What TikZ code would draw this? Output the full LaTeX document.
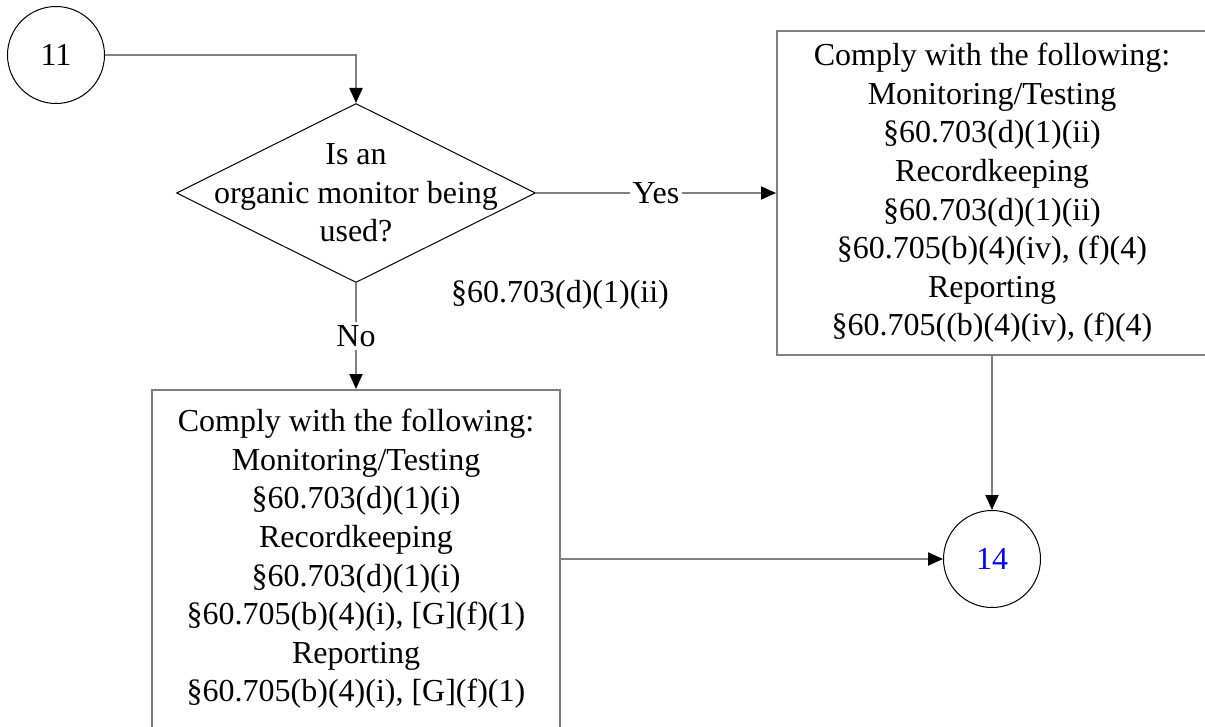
\documentclass[tikz,border=0pt]{standalone}
\usepackage{fontspec}
\setmainfont{Liberation Serif}
\usetikzlibrary{shapes.geometric,arrows.meta}
\tikzset{
  every node/.style={font=\fontsize{32}{38.6}\selectfont},
  conn/.style={draw=gray,line width=2pt,-{Triangle[length=15pt,width=13pt,color=black]}},
  rulebox/.style={rectangle,draw=gray,line width=2pt,align=center,inner sep=0pt},
  connector/.style={circle,draw=black,line width=1pt,minimum size=97pt,inner sep=0pt},
  answer/.style={fill=white,inner sep=3pt},
}
\begin{document}
\begin{tikzpicture}[x=1pt,y=-1pt]
  \useasboundingbox (0,0) rectangle (1205,726);
  \clip (0,0) rectangle (1205,726);
  \node[connector] (c11) at (56,55) {11};
  \node[diamond,draw=black,line width=1pt,minimum width=359pt,minimum height=179pt,inner sep=0pt,
    label={[align=center]center:Is an\\organic monitor being\\used?}] (monitor) at (356,193) {};
  \node[rulebox,minimum width=430pt,minimum height=324pt] (yesbox) at (992,193)
    {Comply with the following:\\Monitoring/Testing\\§60.703(d)(1)(ii)\\Recordkeeping\\§60.703(d)(1)(ii)\\§60.705(b)(4)(iv), (f)(4)\\Reporting\\§60.705((b)(4)(iv), (f)(4)};
  \node[rulebox,minimum width=408pt,minimum height=338pt] (nobox) at (356,559)
    {Comply with the following:\\Monitoring/Testing\\§60.703(d)(1)(i)\\Recordkeeping\\§60.703(d)(1)(i)\\§60.705(b)(4)(i), [G](f)(1)\\Reporting\\§60.705(b)(4)(i), [G](f)(1)};
  \node[connector,text=blue] (c14) at (992,559) {14};
  \node (cite) at (560,295) {§60.703(d)(1)(ii)};
  \draw[conn] (c11) -| (monitor);
  \draw[conn] (monitor) -- node[answer] {Yes} (yesbox);
  \draw[conn] (monitor) -- node[answer] {No} (nobox);
  \draw[conn] (yesbox) -- (c14);
  \draw[conn] (nobox) -- (c14);
\end{tikzpicture}
\end{document}
